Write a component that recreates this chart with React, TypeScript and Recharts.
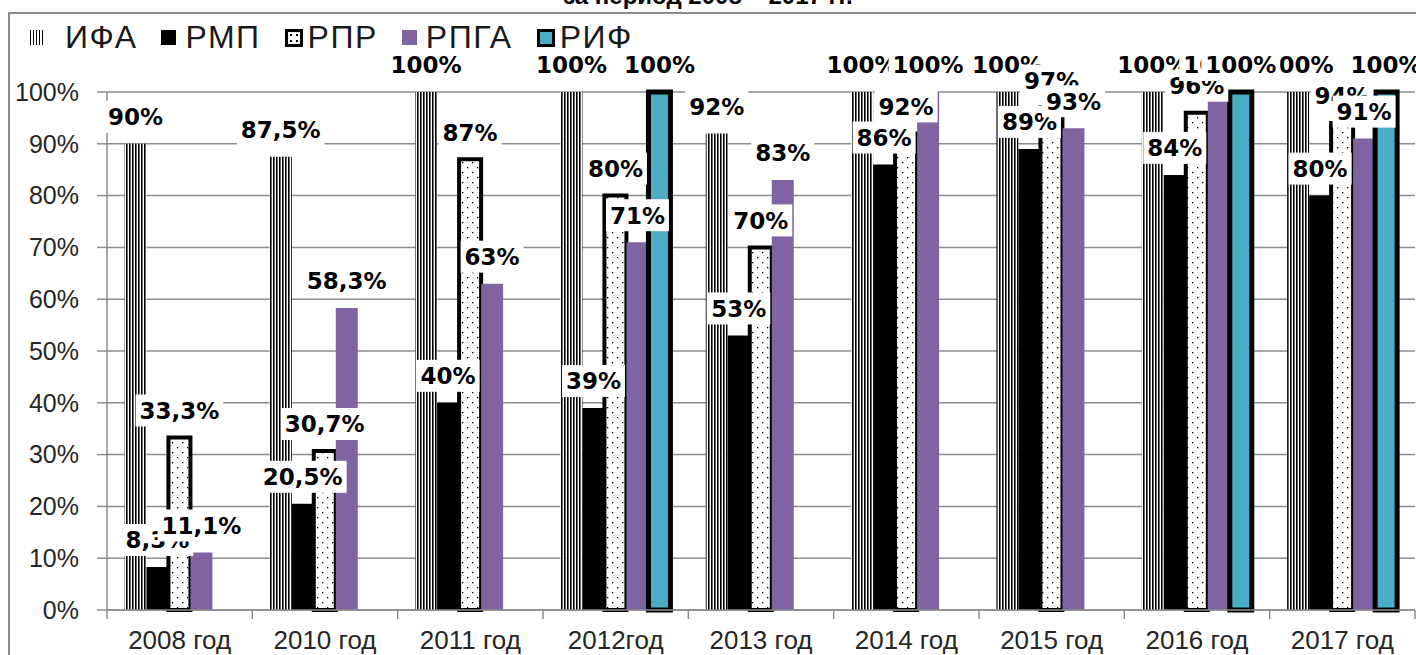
import React from 'react';
import { BarChart, Bar, XAxis, YAxis, CartesianGrid, LabelList } from 'recharts';

const years = ['2008 год', '2010 год', '2011 год', '2012год', '2013 год', '2014 год', '2015 год', '2016 год', '2017 год'];
const ifa = [90, 87.5, 100, 100, 92, 100, 100, 100, 100];
const rmp = [8.3, 20.5, 40, 39, 53, 86, 89, 84, 80];
const rpr = [33.3, 30.7, 87, 80, 70, 92, 97, 96, 94];
const rpga = [11.1, 58.3, 63, 71, 83, 100, 93, 100, 91];
const rif = [null, null, null, 100, null, null, null, 100, 100];
const yTicks = [0, 10, 20, 30, 40, 50, 60, 70, 80, 90, 100];

const data = years.map((year, i) => ({
  year,
  ifa: ifa[i],
  rmp: rmp[i],
  rpr: rpr[i],
  rpga: rpga[i],
  rif: rif[i],
}));

const series = [
  { key: 'ifa', name: 'ИФА', fill: 'url(#ifaPattern)', stroke: 'none', strokeWidth: 0 },
  { key: 'rmp', name: 'РМП', fill: '#000000', stroke: 'none', strokeWidth: 0 },
  { key: 'rpr', name: 'РПР', fill: 'url(#rprPattern)', stroke: '#000000', strokeWidth: 4 },
  { key: 'rpga', name: 'РПГА', fill: '#8064A2', stroke: 'none', strokeWidth: 0 },
  { key: 'rif', name: 'РИФ', fill: '#4BACC6', stroke: '#000000', strokeWidth: 5 },
];

const gridColor = '#8c8c8c';
const labelFont = 23;
const axisFont = "'Liberation Sans', Arial, sans-serif";

const fmt = (v: number) => `${String(v).replace('.', ',')}%`;
const charW = (c: string) => (c === ',' ? 0.38 : c === '%' ? 1.0 : 0.696);

const renderLabel = (props: any) => {
  const { x, y, width, value } = props;
  if (value == null) return null;
  const text = fmt(value);
  const w = text.split('').reduce((s, c) => s + charW(c) * labelFont, 0);
  const cx = x + width / 2;
  const cy = y - 27;
  return (
    <g>
      <rect x={cx - w / 2 - 4} y={cy - 16} width={w + 8} height={32} fill="#ffffff" />
      <text
        x={cx}
        y={cy}
        dy="0.36em"
        textAnchor="middle"
        fontFamily="'DejaVu Sans', sans-serif"
        fontWeight="bold"
        fontSize={labelFont}
        fill="#000000"
      >
        {text}
      </text>
    </g>
  );
};

const XTick = (props: any) => {
  const { x, y, payload, index, visibleTicksCount } = props;
  const half = payload && payload.offset ? payload.offset : 72.65;
  const last = index === visibleTicksCount - 1;
  return (
    <g>
      <line x1={x - half} x2={x - half} y1={y} y2={y + 9} stroke={gridColor} strokeWidth={1.5} />
      {last && <line x1={x + half} x2={x + half} y1={y} y2={y + 9} stroke={gridColor} strokeWidth={1.5} />}
      <text x={x} y={y + 39} textAnchor="middle" fontFamily={axisFont} fontSize={26} fill="#262626">
        {payload.value}
      </text>
    </g>
  );
};

const LegendIcon = ({ k }: { k: string }) => {
  const base: React.CSSProperties = { display: 'inline-block', width: 15, height: 15, boxSizing: 'border-box', marginRight: 9 };
  if (k === 'ifa')
    return (
      <span
        style={{ ...base, marginRight: 20, background: 'repeating-linear-gradient(90deg, #000 0 1.5px, #fff 1.5px 3px)' }}
      />
    );
  if (k === 'rmp') return <span style={{ ...base, background: '#000' }} />;
  if (k === 'rpr')
    return (
      <span
        style={{
          ...base,
          width: 18,
          height: 18,
          marginRight: 5,
          border: '3px solid #000',
          background: 'radial-gradient(circle, #000 0.8px, transparent 1px) 0 0 / 6px 6px, #fff',
        }}
      />
    );
  if (k === 'rpga') return <span style={{ ...base, background: '#8064A2' }} />;
  return <span style={{ ...base, width: 18, height: 18, marginRight: 5, border: '3px solid #000', background: '#4BACC6' }} />;
};

export default function App() {
  return (
    <div style={{ position: 'absolute', left: 0, top: 0, width: 1416, height: 655, overflow: 'hidden', background: '#fff' }}>
      <div
        style={{
          position: 'absolute',
          left: 0,
          width: 1416,
          top: -16,
          textAlign: 'center',
          fontFamily: axisFont,
          fontWeight: 'bold',
          fontSize: 24,
          lineHeight: '24px',
          color: '#000',
        }}
      >
        за период 2008 – 2017 гг.
      </div>
      <div
        style={{
          position: 'absolute',
          left: 8,
          top: 12,
          width: 2000,
          height: 2000,
          border: '2px solid #8a8a8a',
        }}
      />
      <div
        style={{
          position: 'absolute',
          left: 30,
          top: 19,
          display: 'flex',
          alignItems: 'center',
          fontFamily: axisFont,
          fontSize: 32,
          letterSpacing: 1.5,
          color: '#1a1a1a',
        }}
      >
        {series.map((s) => (
          <span key={s.key} style={{ display: 'inline-flex', alignItems: 'center', marginRight: 24 }}>
            <LegendIcon k={s.key} />
            {s.name}
          </span>
        ))}
      </div>
      <div style={{ position: 'absolute', left: 0, top: 0 }}>
        <BarChart
          width={1416}
          height={655}
          data={data}
          margin={{ top: 92, right: 1, bottom: 15, left: 0 }}
          barCategoryGap="12%"
          barGap={0}
        >
          <defs>
            <pattern id="ifaPattern" width={3} height={4} patternUnits="userSpaceOnUse">
              <rect width={3} height={4} fill="#ffffff" />
              <rect width={1.6} height={4} fill="#000000" />
            </pattern>
            <pattern id="rprPattern" width={10} height={10} patternUnits="userSpaceOnUse">
              <rect width={10} height={10} fill="#ffffff" />
              <rect x={2} y={2} width={1.3} height={1.3} fill="#000000" />
              <rect x={7} y={7} width={1.3} height={1.3} fill="#000000" />
            </pattern>
          </defs>
          <CartesianGrid vertical={false} stroke={gridColor} strokeWidth={1.5} />
          <XAxis
            dataKey="year"
            height={30}
            tick={<XTick />}
            tickLine={false}
            tickSize={0}
            tickMargin={0}
            interval={0}
            axisLine={{ stroke: gridColor, strokeWidth: 1.5 }}
          />
          <XAxis xAxisId="lbl" dataKey="year" hide />
          <YAxis
            width={107}
            domain={[0, 100]}
            ticks={yTicks}
            tickFormatter={(v: number) => `${v}%`}
            tickSize={10}
            tickMargin={18}
            tickLine={{ stroke: gridColor, strokeWidth: 1.5 }}
            axisLine={{ stroke: gridColor, strokeWidth: 1.5 }}
            tick={{ fontFamily: axisFont, fontSize: 25, fill: '#262626' }}
          />
          {series.map((s) => (
            <Bar
              key={s.key}
              dataKey={s.key}
              name={s.name}
              fill={s.fill}
              stroke={s.stroke}
              strokeWidth={s.strokeWidth}
              isAnimationActive={false}
            />
          ))}
          {series.map((s) => (
            <Bar
              key={`lbl-${s.key}`}
              xAxisId="lbl"
              dataKey={s.key}
              fill="none"
              legendType="none"
              isAnimationActive={false}
            >
              <LabelList dataKey={s.key} content={renderLabel} />
            </Bar>
          ))}
        </BarChart>
      </div>
    </div>
  );
}
